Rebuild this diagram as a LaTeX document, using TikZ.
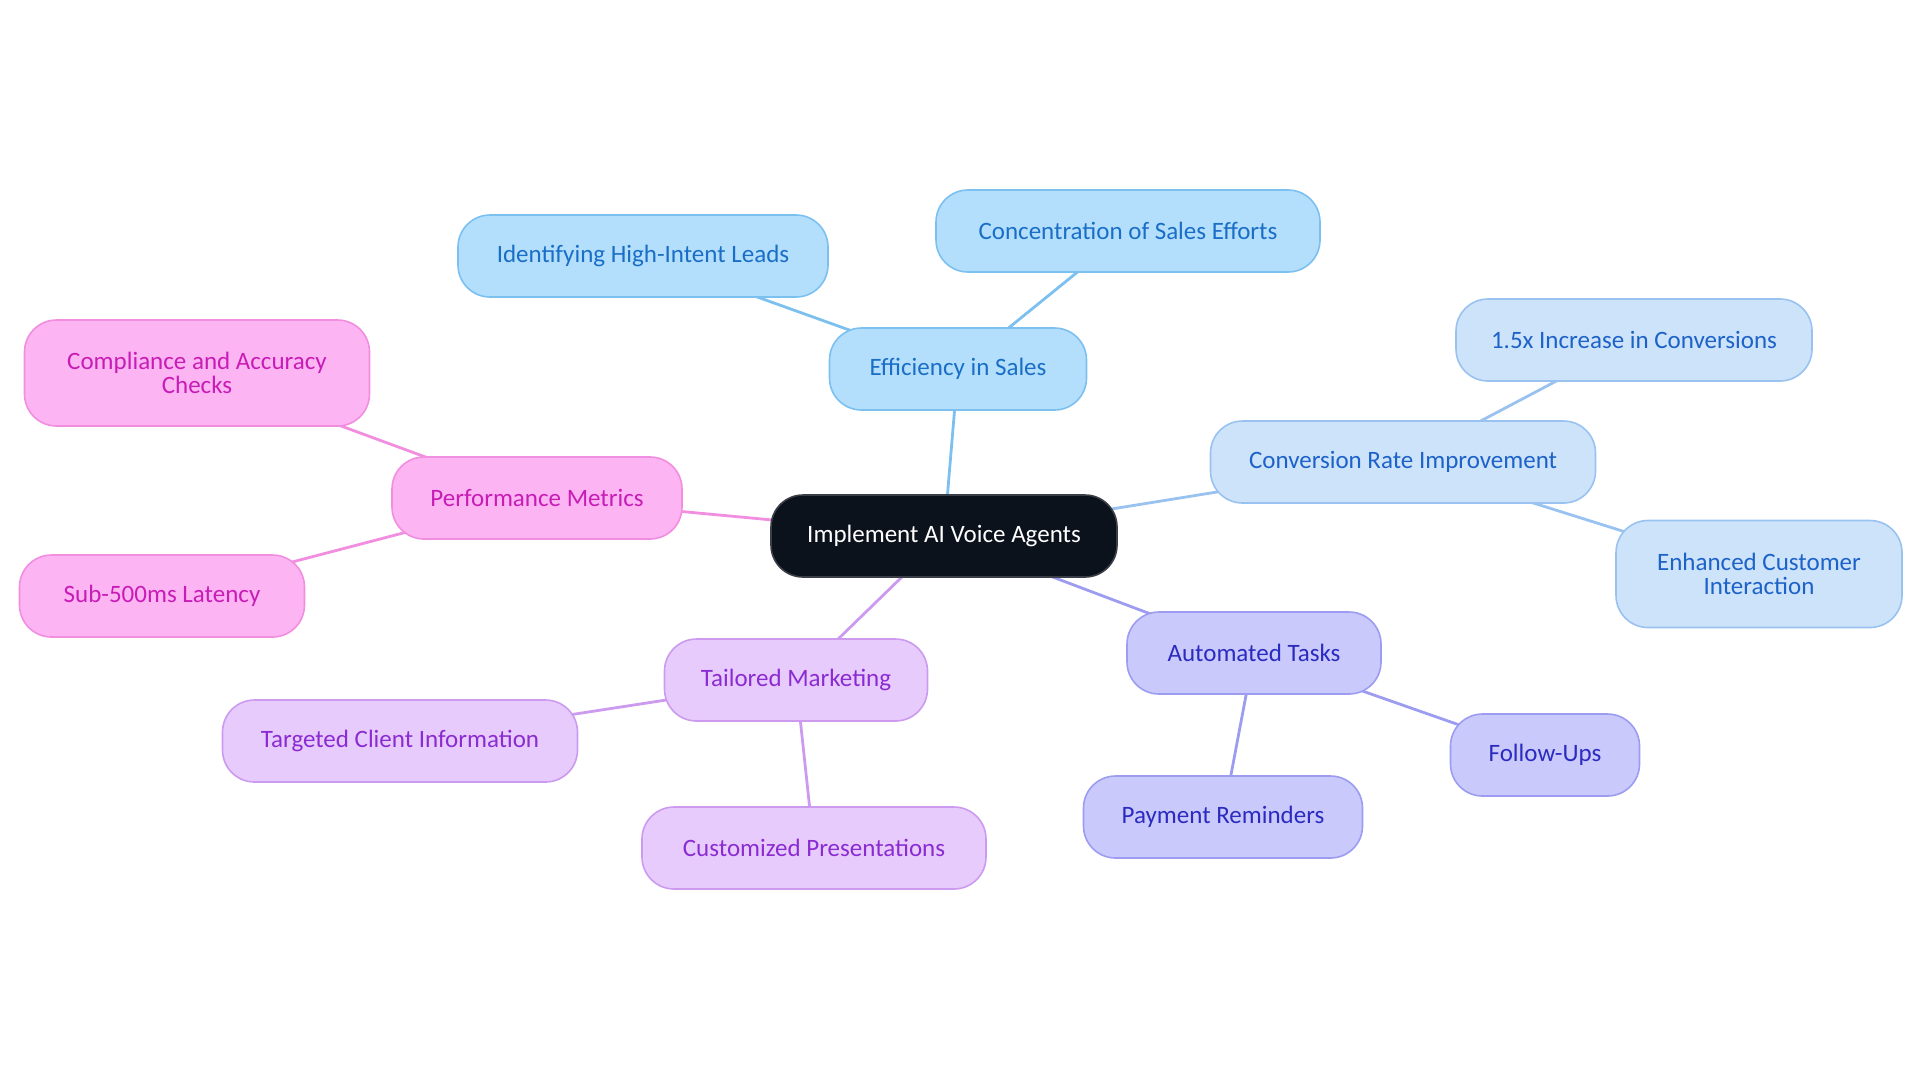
\documentclass[tikz,border=0pt]{standalone}
\usepackage{fontspec}
\setmainfont{Carlito}
\usetikzlibrary{backgrounds}
\definecolor{ctrfill}{HTML}{0C121C}
\definecolor{ctrdraw}{HTML}{3A3F47}
\definecolor{bAfill}{HTML}{B3DFFD}
\definecolor{bAdraw}{HTML}{7CC0F0}
\definecolor{bAtext}{HTML}{1A6EC6}
\definecolor{bBfill}{HTML}{CDE3FA}
\definecolor{bBdraw}{HTML}{99C2F0}
\definecolor{bBtext}{HTML}{1C62C8}
\definecolor{bCfill}{HTML}{C9C9FC}
\definecolor{bCdraw}{HTML}{9C9CF0}
\definecolor{bCtext}{HTML}{2B2BC0}
\definecolor{bDfill}{HTML}{E7CBFC}
\definecolor{bDdraw}{HTML}{CC9BF0}
\definecolor{bDtext}{HTML}{8B2BD2}
\definecolor{bEfill}{HTML}{FDB4F3}
\definecolor{bEdraw}{HTML}{F18EE0}
\definecolor{bEtext}{HTML}{C81CB6}
\tikzset{
  box/.style={rounded corners=16pt, line width=0.8pt, minimum height=41pt, inner sep=0pt, align=center,
    font=\fontsize{12.5}{12}\selectfont},
  ctr/.style={box, fill=ctrfill, draw=ctrdraw, text=white},
  bA/.style={box, fill=bAfill, draw=bAdraw, text=bAtext},
  bB/.style={box, fill=bBfill, draw=bBdraw, text=bBtext},
  bC/.style={box, fill=bCfill, draw=bCdraw, text=bCtext},
  bD/.style={box, fill=bDfill, draw=bDdraw, text=bDtext},
  bE/.style={box, fill=bEfill, draw=bEdraw, text=bEtext},
  lnA/.style={line width=1.4pt, draw=bAdraw},
  lnB/.style={line width=1.4pt, draw=bBdraw},
  lnC/.style={line width=1.4pt, draw=bCdraw},
  lnD/.style={line width=1.4pt, draw=bDdraw},
  lnE/.style={line width=1.4pt, draw=bEdraw},
}
\begin{document}
\begin{tikzpicture}[x=0.5pt, y=-0.5pt]
\useasboundingbox (0,0) rectangle (1920,1083);
\node[ctr, minimum width=173pt] (c) at (944,536) {Implement AI Voice Agents};
\node[bA, minimum width=128.5pt] (eff) at (958,369) {Efficiency in Sales};
\node[bA, minimum width=185pt] (ihl) at (643,256) {Identifying High-Intent Leads};
\node[bA, minimum width=192pt] (cse) at (1128,231) {Concentration of Sales Efforts};
\node[bB, minimum width=192.5pt] (cri) at (1403,462) {Conversion Rate Improvement};
\node[bB, minimum width=178pt] (inc) at (1634,340) {1.5x Increase in Conversions};
\node[bB, minimum width=143pt, minimum height=53.5pt] (eci) at (1759,574) {Enhanced Customer\\Interaction};
\node[bC, minimum width=127pt] (aut) at (1254,653) {Automated Tasks};
\node[bC, minimum width=94.5pt] (fol) at (1545,755) {Follow-Ups};
\node[bC, minimum width=139.5pt] (pay) at (1223,817) {Payment Reminders};
\node[bD, minimum width=131.5pt] (tm) at (796,680) {Tailored Marketing};
\node[bD, minimum width=177.5pt] (tci) at (400,741) {Targeted Client Information};
\node[bD, minimum width=172pt] (cp) at (814,848) {Customized Presentations};
\node[bE, minimum width=145pt] (pm) at (537,498) {Performance Metrics};
\node[bE, minimum width=172.5pt, minimum height=53pt] (cac) at (197,373) {Compliance and Accuracy\\Checks};
\node[bE, minimum width=142.5pt] (sub) at (162,596) {Sub-500ms Latency};
\begin{scope}[on background layer]
\draw[lnA] (c.center) -- (eff.center);
\draw[lnA] (eff.center) -- (ihl.center);
\draw[lnA] (eff.center) -- (cse.center);
\draw[lnB] (c.center) -- (cri.center);
\draw[lnB] (cri.center) -- (inc.center);
\draw[lnB] (cri.center) -- (eci.center);
\draw[lnC] (c.center) -- (aut.center);
\draw[lnC] (aut.center) -- (fol.center);
\draw[lnC] (aut.center) -- (pay.center);
\draw[lnD] (c.center) -- (tm.center);
\draw[lnD] (tm.center) -- (tci.center);
\draw[lnD] (tm.center) -- (cp.center);
\draw[lnE] (c.center) -- (pm.center);
\draw[lnE] (pm.center) -- (cac.center);
\draw[lnE] (pm.center) -- (sub.center);
\end{scope}
\end{tikzpicture}
\end{document}
